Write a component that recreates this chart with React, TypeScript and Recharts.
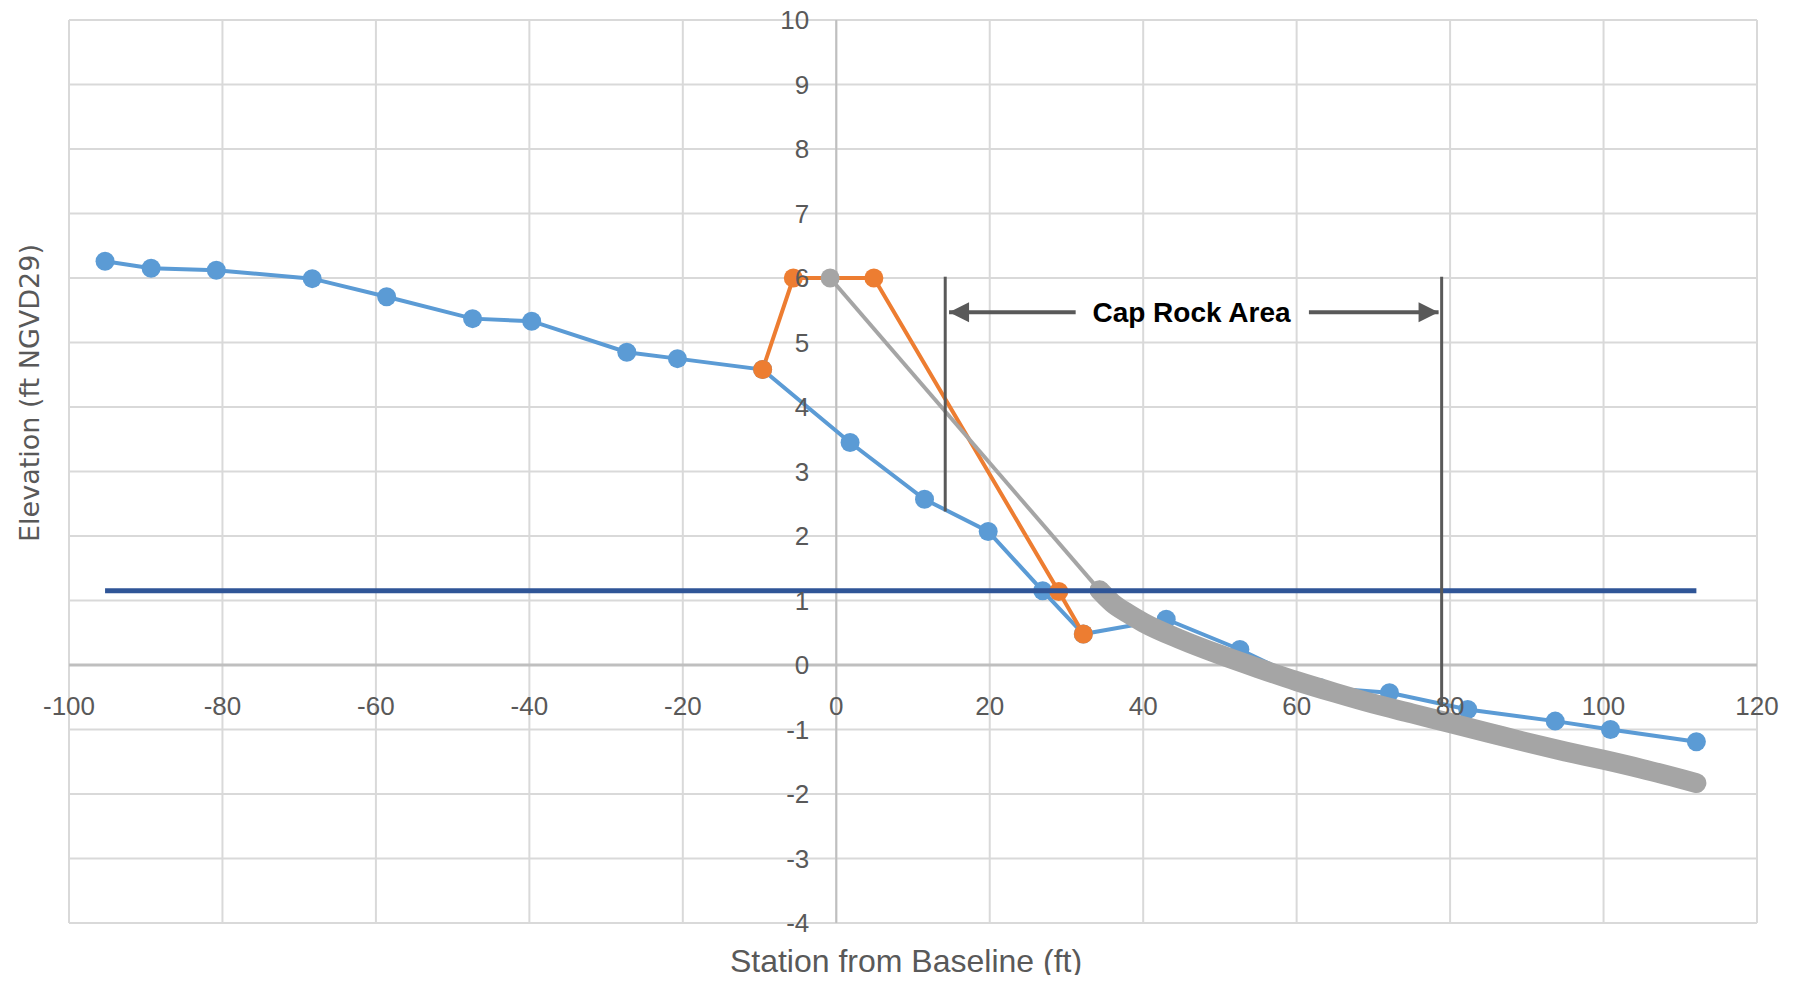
import { ComposedChart, Line, XAxis, YAxis, CartesianGrid, ReferenceLine, ReferenceDot } from 'recharts'

// survey profile (blue)
const profileX = [-95.3, -89.3, -80.8, -68.3, -58.6, -47.4, -39.7, -27.3, -20.7, -9.6, 1.8, 11.5, 19.8, 26.9, 32.2, 43.0, 52.6, 63.0, 72.1, 82.3, 93.7, 100.9, 112.1]
const profileY = [6.26, 6.15, 6.12, 5.99, 5.71, 5.37, 5.33, 4.85, 4.75, 4.58, 3.45, 2.57, 2.07, 1.15, 0.48, 0.71, 0.24, -0.35, -0.43, -0.69, -0.87, -1.0, -1.19]

// berm design (orange)
const bermX = [-9.6, -5.6, 4.9, 29.0, 32.2]
const bermY = [4.58, 6.0, 6.0, 1.14, 0.48]

// design slope (grey, thin)
const slopeX = [-0.8, 34.3]
const slopeY = [6.0, 1.16]

// equilibrium profile (grey, thick)
const eqX = [34.3, 36, 38, 40, 45, 50, 55, 60, 65, 70, 75, 80, 85, 90, 95, 100, 105, 112.1]
const eqY = [1.16, 0.96, 0.8, 0.66, 0.39, 0.16, -0.05, -0.25, -0.43, -0.6, -0.75, -0.9, -1.05, -1.2, -1.34, -1.47, -1.61, -1.83]

// water level (dark blue)
const mhwX = [-95.3, 112.1]
const mhwY = [1.15, 1.15]

// cap rock markers
const capLeftX = 14.2
const capRightX = 78.9
const capLeftY = [6.02, 2.38]
const capRightY = [6.02, -0.65]
const arrowY = 5.47
const arrowLeftX = [14.7, 31.2]
const arrowRightX = [61.6, 78.5]
const capLabelX = 46.3

const xTicks = [-100, -80, -60, -40, -20, 0, 20, 40, 60, 80, 100, 120]
const yTicks = [-4, -3, -2, -1, 0, 1, 2, 3, 4, 5, 6, 7, 8, 9, 10]
const X_DOMAIN: [number, number] = [-100, 120]
const Y_DOMAIN: [number, number] = [-4, 10]

const W = 1787
const H = 975
const M = { top: 20, right: 38, bottom: 52, left: 61 }

const zip = (xs: number[], ys: number[]) => xs.map((x, i) => ({ x, y: ys[i] }))

const profile = zip(profileX, profileY)
const berm = zip(bermX, bermY)
const slope = zip(slopeX, slopeY)
const eq = zip(eqX, eqY)
const mhw = zip(mhwX, mhwY)
const arrowLeft = zip(arrowLeftX, [arrowY, arrowY])
const arrowRight = zip(arrowRightX, [arrowY, arrowY])

const TICK_FONT = "'Liberation Sans', Arial, sans-serif"
const GREY_TEXT = '#595959'

function arrowHead(dir: number, tipIndex: number) {
  return (props: any) => {
    const { cx, cy, index } = props
    if (index !== tipIndex) return <g key={`a${index}`} />
    const len = 20
    const half = 10
    const p = `${cx},${cy} ${cx - dir * len},${cy - half} ${cx - dir * len},${cy + half}`
    return <polygon key={`a${index}`} points={p} fill="#595959" />
  }
}

const tickLabel = { fill: GREY_TEXT, fontSize: 26, fontFamily: TICK_FONT }

export default function App() {
  return (
    <div style={{ width: W, height: H, position: 'relative', marginTop: -8 }}>
      <ComposedChart width={W} height={H} margin={M}>
        <CartesianGrid stroke="#d9d9d9" strokeWidth={2} />
        <XAxis type="number" dataKey="x" domain={X_DOMAIN} ticks={xTicks} hide />
        <YAxis type="number" dataKey="y" domain={Y_DOMAIN} ticks={yTicks} hide />
        <ReferenceLine x={0} stroke="#bfbfbf" strokeWidth={2} />
        <ReferenceLine y={0} stroke="#bfbfbf" strokeWidth={3} />

        {/* axes cross at the origin: labels hang off the zero lines */}
        {xTicks.map(t => (
          <ReferenceDot key={`xt${t}`} x={t} y={0} r={0} fill="none" stroke="none"
            label={{ value: t, position: 'bottom', offset: 32, ...tickLabel }} />
        ))}
        {yTicks.map(t => (
          <ReferenceDot key={`yt${t}`} x={0} y={t} r={0} fill="none" stroke="none"
            label={{ value: t, position: 'left', offset: 27, ...tickLabel }} />
        ))}

        <Line data={profile} dataKey="y" stroke="#5b9bd5" strokeWidth={4}
          dot={{ r: 9.5, fill: '#5b9bd5', stroke: '#5b9bd5', strokeWidth: 0 }}
          activeDot={false} isAnimationActive={false} />
        <Line data={berm} dataKey="y" stroke="#ed7d31" strokeWidth={4}
          dot={{ r: 9.5, fill: '#ed7d31', stroke: '#ed7d31', strokeWidth: 0 }}
          activeDot={false} isAnimationActive={false} />
        <Line data={slope} dataKey="y" stroke="#a5a5a5" strokeWidth={4}
          dot={{ r: 9.5, fill: '#a5a5a5', stroke: '#a5a5a5', strokeWidth: 0 }}
          activeDot={false} isAnimationActive={false} />
        <Line data={eq} dataKey="y" type="monotone" stroke="#a5a5a5" strokeWidth={20}
          strokeLinecap="round" strokeLinejoin="round" dot={false} activeDot={false}
          isAnimationActive={false} {...({ zIndex: 1500 } as any)} />
        <Line data={mhw} dataKey="y" stroke="#2f5597" strokeWidth={5} dot={false}
          activeDot={false} isAnimationActive={false} {...({ zIndex: 1600 } as any)} />

        <ReferenceLine segment={[{ x: capLeftX, y: capLeftY[0] }, { x: capLeftX, y: capLeftY[1] }]}
          stroke="#595959" strokeWidth={3} />
        <ReferenceLine segment={[{ x: capRightX, y: capRightY[0] }, { x: capRightX, y: capRightY[1] }]}
          stroke="#595959" strokeWidth={3} {...({ zIndex: 1700 } as any)} />
        <Line data={arrowLeft} dataKey="y" stroke="#595959" strokeWidth={4}
          dot={arrowHead(-1, 0)} activeDot={false} isAnimationActive={false} />
        <Line data={arrowRight} dataKey="y" stroke="#595959" strokeWidth={4}
          dot={arrowHead(1, 1)} activeDot={false} isAnimationActive={false} />
        <ReferenceDot x={capLabelX} y={arrowY} r={0} fill="none" stroke="none"
          label={{ value: 'Cap Rock Area', position: 'center', fill: '#000', fontSize: 28,
            fontWeight: 'bold', fontFamily: TICK_FONT }} />
      </ComposedChart>
      <div style={{ position: 'absolute', left: 0, top: 943, width: 1796, textAlign: 'center',
        fontFamily: TICK_FONT, fontSize: 32, color: GREY_TEXT, lineHeight: '36px' }}>
        Station from Baseline (ft)
      </div>
      <div style={{ position: 'absolute', left: 21, top: 393, transform: 'translate(-50%, -50%) rotate(-90deg)',
        whiteSpace: 'nowrap', fontFamily: "'DejaVu Sans', Verdana, sans-serif", fontSize: 27,
        color: GREY_TEXT }}>
        Elevation (ft NGVD29)
      </div>
    </div>
  )
}
